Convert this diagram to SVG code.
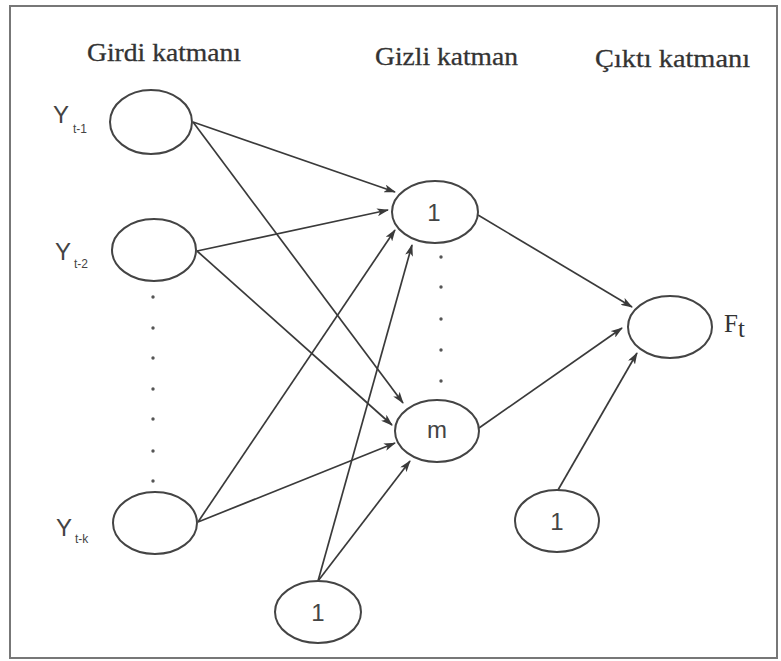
<svg xmlns="http://www.w3.org/2000/svg" width="781" height="661" viewBox="0 0 781 661">
<defs>
<style>
.node{fill:#fff;stroke:#444;stroke-width:2}
.edge{stroke:#3a3a3a;stroke-width:1.7;fill:none;marker-end:url(#arr)}
.title{font-family:"Liberation Serif","Times New Roman",serif;font-size:26px;fill:#333;stroke:#333;stroke-width:0.3}
.lab{font-family:"Liberation Sans",Arial,sans-serif;fill:#444}
.dot{fill:#555}
</style>
<marker id="arr" markerUnits="userSpaceOnUse" markerWidth="12" markerHeight="8" refX="11" refY="4" orient="auto">
<path d="M0,0 L12,4 L0,8 L3,4 z" fill="#3a3a3a"/>
</marker>
</defs>
<rect x="0" y="0" width="781" height="661" fill="#fff"/>
<rect x="10" y="6" width="767" height="652" fill="none" stroke="#777" stroke-width="2"/>
<text class="title" x="87" y="61" textLength="154" lengthAdjust="spacingAndGlyphs">Girdi katmanı</text>
<text class="title" x="375" y="65" textLength="143" lengthAdjust="spacingAndGlyphs">Gizli katman</text>
<text class="title" x="595" y="67" textLength="155" lengthAdjust="spacingAndGlyphs">Çıktı katmanı</text>
<g id="connectors">
<line class="edge" x1="193" y1="122" x2="395" y2="192"/>
<line class="edge" x1="193" y1="122" x2="403" y2="403"/>
<line class="edge" x1="197" y1="251" x2="388" y2="210"/>
<line class="edge" x1="197" y1="251" x2="392" y2="425"/>
<line class="edge" x1="198" y1="522" x2="395" y2="230"/>
<line class="edge" x1="198" y1="522" x2="395" y2="443"/>
<line class="edge" x1="318" y1="581" x2="412" y2="245"/>
<line class="edge" x1="318" y1="581" x2="410" y2="461"/>
<line class="edge" x1="478" y1="215" x2="632" y2="307"/>
<line class="edge" x1="479" y1="428" x2="622" y2="328"/>
<line class="edge" x1="558" y1="490" x2="637" y2="353"/>
</g>
<g id="in1">
<ellipse class="node" cx="151" cy="122" rx="41" ry="32"/>
<text class="lab" x="53" y="123" font-size="24">Y<tspan font-size="12" dx="4" dy="10">t-1</tspan></text>
</g>
<g id="in2">
<ellipse class="node" cx="154" cy="250" rx="42" ry="31"/>
<text class="lab" x="55" y="260" font-size="24">Y<tspan font-size="12" dx="3" dy="8">t-2</tspan></text>
</g>
<g id="ink">
<ellipse class="node" cx="155" cy="523" rx="42" ry="31"/>
<text class="lab" x="56" y="536" font-size="24">Y<tspan font-size="12" dx="3" dy="7">t-k</tspan></text>
</g>
<g id="input-dots">
<circle class="dot" cx="153" cy="297" r="1.7"/>
<circle class="dot" cx="153" cy="328" r="1.7"/>
<circle class="dot" cx="153" cy="358" r="1.7"/>
<circle class="dot" cx="153" cy="389" r="1.7"/>
<circle class="dot" cx="153" cy="419" r="1.7"/>
<circle class="dot" cx="153" cy="451" r="1.7"/>
<circle class="dot" cx="153" cy="481" r="1.7"/>
</g>
<g id="h1">
<ellipse class="node" cx="435" cy="212" rx="43" ry="31"/>
<text class="lab" x="434" y="221" font-size="24" text-anchor="middle">1</text>
</g>
<g id="hidden-dots">
<circle class="dot" cx="441" cy="257" r="1.7"/>
<circle class="dot" cx="441" cy="287" r="1.7"/>
<circle class="dot" cx="441" cy="319" r="1.7"/>
<circle class="dot" cx="441" cy="350" r="1.7"/>
<circle class="dot" cx="441" cy="381" r="1.7"/>
</g>
<g id="hm">
<ellipse class="node" cx="437" cy="431" rx="42" ry="31"/>
<text class="lab" x="437" y="438" font-size="24" text-anchor="middle">m</text>
</g>
<g id="out">
<ellipse class="node" cx="670" cy="327" rx="42" ry="31"/>
<text x="724" y="332" font-family="Liberation Serif, serif" font-size="25" fill="#333">F<tspan dy="5">t</tspan></text>
</g>
<g id="b1">
<ellipse class="node" cx="318" cy="612" rx="43" ry="31"/>
<text class="lab" x="318" y="621" font-size="24" text-anchor="middle">1</text>
</g>
<g id="b2">
<ellipse class="node" cx="557" cy="521" rx="42" ry="31"/>
<text class="lab" x="557" y="530" font-size="24" text-anchor="middle">1</text>
</g>
</svg>
